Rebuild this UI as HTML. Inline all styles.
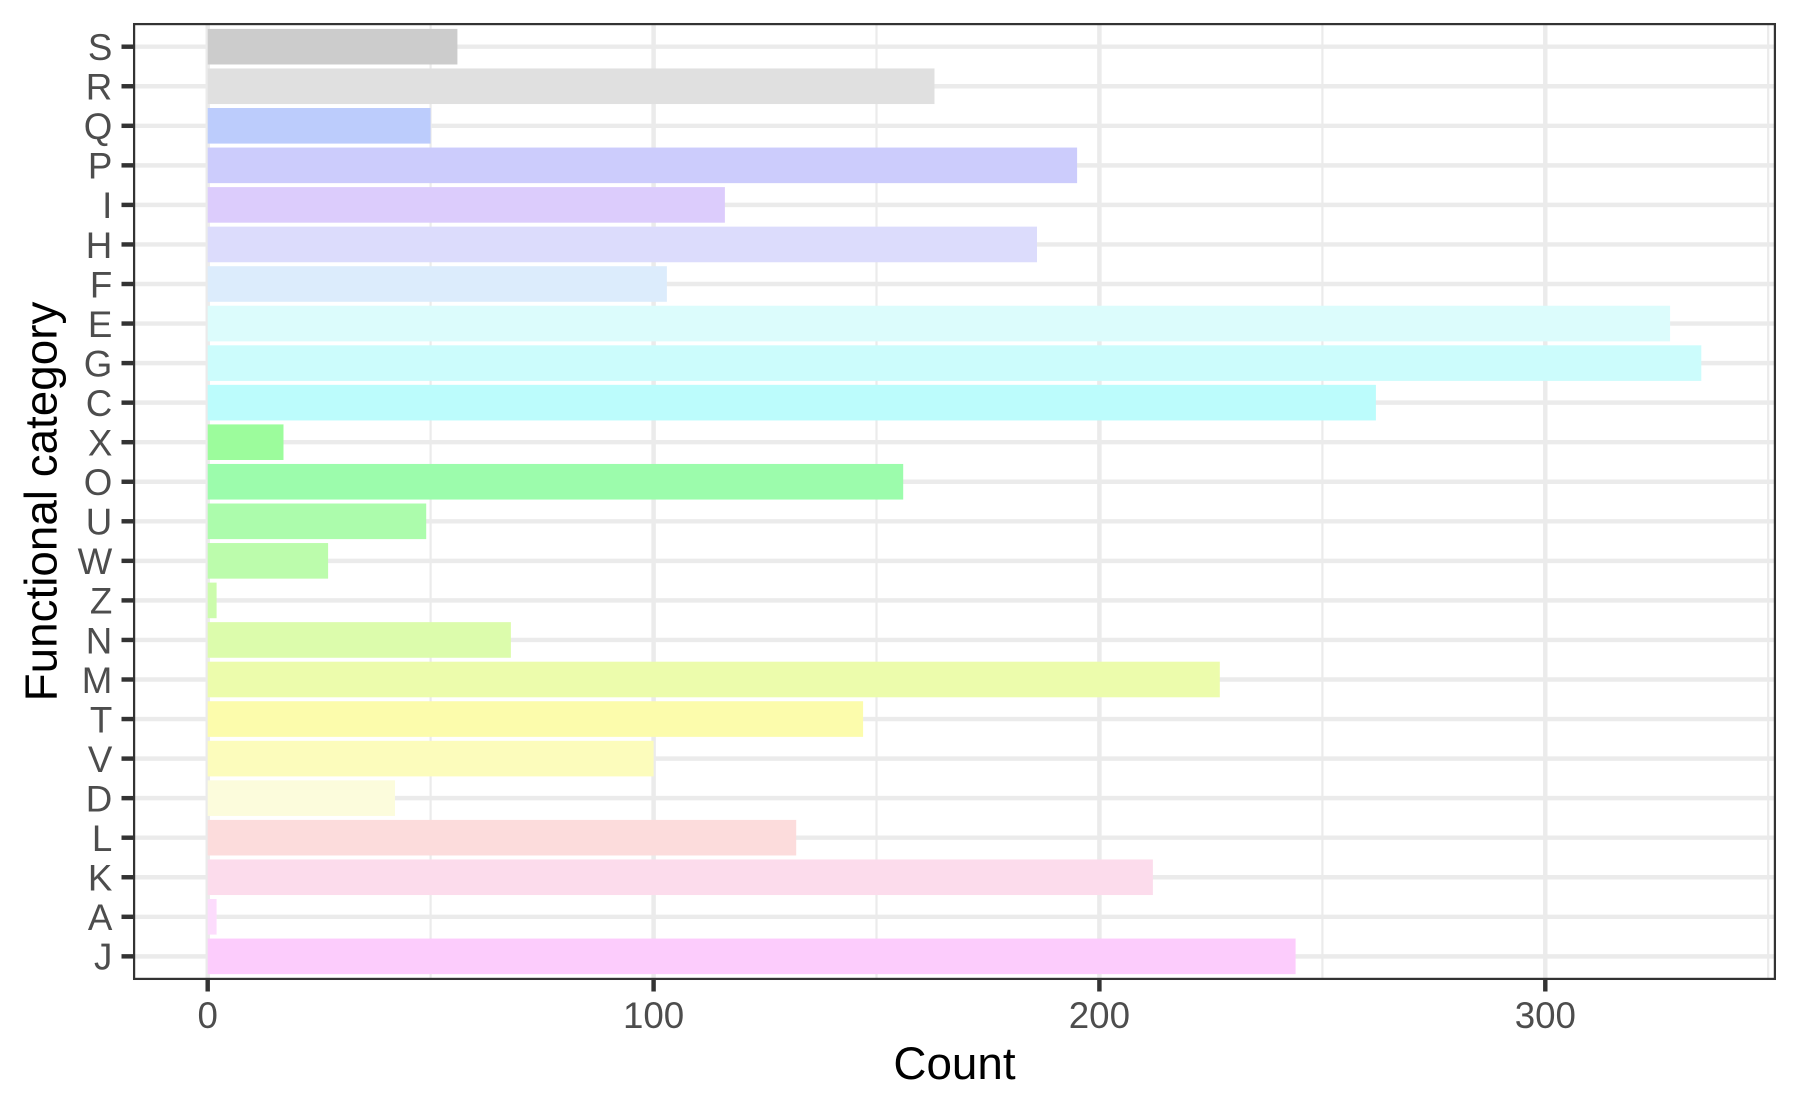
<!DOCTYPE html>
<html>
<head>
<meta charset="utf-8">
<style>
html,body{margin:0;padding:0;background:#fff;}
svg{display:block;}
text{font-family:"Liberation Sans",Arial,sans-serif;}
</style>
</head>
<body>
<svg width="1800" height="1112" viewBox="0 0 1800 1112" xmlns="http://www.w3.org/2000/svg">
<defs>
<clipPath id="pc"><rect x="133" y="23" width="1643" height="957"/></clipPath>
</defs>
<rect x="0" y="0" width="1800" height="1112" fill="#fff"/>
<g clip-path="url(#pc)">
<!-- minor vertical grid -->
<g stroke="#EBEBEB" stroke-width="2.22">
<line x1="430.6" y1="23" x2="430.6" y2="980"/>
<line x1="876.5" y1="23" x2="876.5" y2="980"/>
<line x1="1322.4" y1="23" x2="1322.4" y2="980"/>
<line x1="1768.2" y1="23" x2="1768.2" y2="980"/>
</g>
<!-- major vertical grid -->
<g stroke="#EBEBEB" stroke-width="4.44">
<line x1="207.7" y1="23" x2="207.7" y2="980"/>
<line x1="653.6" y1="23" x2="653.6" y2="980"/>
<line x1="1099.4" y1="23" x2="1099.4" y2="980"/>
<line x1="1545.3" y1="23" x2="1545.3" y2="980"/>
</g>
<!-- major horizontal grid -->
<g stroke="#EBEBEB" stroke-width="4.44">
<line x1="133" x2="1776" y1="46.7" y2="46.7"/>
<line x1="133" x2="1776" y1="86.25" y2="86.25"/>
<line x1="133" x2="1776" y1="125.8" y2="125.8"/>
<line x1="133" x2="1776" y1="165.35" y2="165.35"/>
<line x1="133" x2="1776" y1="204.9" y2="204.9"/>
<line x1="133" x2="1776" y1="244.45" y2="244.45"/>
<line x1="133" x2="1776" y1="284" y2="284"/>
<line x1="133" x2="1776" y1="323.55" y2="323.55"/>
<line x1="133" x2="1776" y1="363.1" y2="363.1"/>
<line x1="133" x2="1776" y1="402.65" y2="402.65"/>
<line x1="133" x2="1776" y1="442.2" y2="442.2"/>
<line x1="133" x2="1776" y1="481.75" y2="481.75"/>
<line x1="133" x2="1776" y1="521.3" y2="521.3"/>
<line x1="133" x2="1776" y1="560.85" y2="560.85"/>
<line x1="133" x2="1776" y1="600.4" y2="600.4"/>
<line x1="133" x2="1776" y1="639.95" y2="639.95"/>
<line x1="133" x2="1776" y1="679.5" y2="679.5"/>
<line x1="133" x2="1776" y1="719.05" y2="719.05"/>
<line x1="133" x2="1776" y1="758.6" y2="758.6"/>
<line x1="133" x2="1776" y1="798.15" y2="798.15"/>
<line x1="133" x2="1776" y1="837.7" y2="837.7"/>
<line x1="133" x2="1776" y1="877.25" y2="877.25"/>
<line x1="133" x2="1776" y1="916.8" y2="916.8"/>
<line x1="133" x2="1776" y1="956.35" y2="956.35"/>
</g>
<!-- bars -->
<g>
<rect x="207.7" y="28.9" width="249.7" height="35.6" fill="#CCCCCC"/>
<rect x="207.7" y="68.45" width="726.8" height="35.6" fill="#E0E0E0"/>
<rect x="207.7" y="108.0" width="222.9" height="35.6" fill="#BCCCFC"/>
<rect x="207.7" y="147.55" width="869.4" height="35.6" fill="#CCCCFC"/>
<rect x="207.7" y="187.1" width="517.2" height="35.6" fill="#DCCCFC"/>
<rect x="207.7" y="226.65" width="829.3" height="35.6" fill="#DCDCFC"/>
<rect x="207.7" y="266.2" width="459.2" height="35.6" fill="#DCECFC"/>
<rect x="207.7" y="305.75" width="1462.4" height="35.6" fill="#DCFCFC"/>
<rect x="207.7" y="345.3" width="1493.6" height="35.6" fill="#CCFCFC"/>
<rect x="207.7" y="384.85" width="1168.2" height="35.6" fill="#BCFCFC"/>
<rect x="207.7" y="424.4" width="75.8" height="35.6" fill="#9CFC9C"/>
<rect x="207.7" y="463.95" width="695.5" height="35.6" fill="#9CFCAC"/>
<rect x="207.7" y="503.5" width="218.5" height="35.6" fill="#ACFCAC"/>
<rect x="207.7" y="543.05" width="120.4" height="35.6" fill="#BCFCAC"/>
<rect x="207.7" y="582.6" width="8.9" height="35.6" fill="#CCFCAC"/>
<rect x="207.7" y="622.15" width="303.2" height="35.6" fill="#DCFCAC"/>
<rect x="207.7" y="661.7" width="1012.1" height="35.6" fill="#ECFCAC"/>
<rect x="207.7" y="701.25" width="655.4" height="35.6" fill="#FCFCAC"/>
<rect x="207.7" y="740.8" width="445.9" height="35.6" fill="#FCFCBC"/>
<rect x="207.7" y="780.35" width="187.3" height="35.6" fill="#FCFCDC"/>
<rect x="207.7" y="819.9" width="588.5" height="35.6" fill="#FCDCDC"/>
<rect x="207.7" y="859.45" width="945.2" height="35.6" fill="#FCDCEC"/>
<rect x="207.7" y="899.0" width="8.9" height="35.6" fill="#FCDCFC"/>
<rect x="207.7" y="938.55" width="1087.9" height="35.6" fill="#FCCCFC"/>
</g>
</g>
<!-- panel border (half clipped) -->
<rect x="134.1" y="24.1" width="1640.8" height="954.8" fill="none" stroke="#333333" stroke-width="2.22"/>
<!-- y ticks -->
<g stroke="#333333" stroke-width="4.44">
<line x1="121.5" x2="133" y1="46.7" y2="46.7"/>
<line x1="121.5" x2="133" y1="86.25" y2="86.25"/>
<line x1="121.5" x2="133" y1="125.8" y2="125.8"/>
<line x1="121.5" x2="133" y1="165.35" y2="165.35"/>
<line x1="121.5" x2="133" y1="204.9" y2="204.9"/>
<line x1="121.5" x2="133" y1="244.45" y2="244.45"/>
<line x1="121.5" x2="133" y1="284" y2="284"/>
<line x1="121.5" x2="133" y1="323.55" y2="323.55"/>
<line x1="121.5" x2="133" y1="363.1" y2="363.1"/>
<line x1="121.5" x2="133" y1="402.65" y2="402.65"/>
<line x1="121.5" x2="133" y1="442.2" y2="442.2"/>
<line x1="121.5" x2="133" y1="481.75" y2="481.75"/>
<line x1="121.5" x2="133" y1="521.3" y2="521.3"/>
<line x1="121.5" x2="133" y1="560.85" y2="560.85"/>
<line x1="121.5" x2="133" y1="600.4" y2="600.4"/>
<line x1="121.5" x2="133" y1="639.95" y2="639.95"/>
<line x1="121.5" x2="133" y1="679.5" y2="679.5"/>
<line x1="121.5" x2="133" y1="719.05" y2="719.05"/>
<line x1="121.5" x2="133" y1="758.6" y2="758.6"/>
<line x1="121.5" x2="133" y1="798.15" y2="798.15"/>
<line x1="121.5" x2="133" y1="837.7" y2="837.7"/>
<line x1="121.5" x2="133" y1="877.25" y2="877.25"/>
<line x1="121.5" x2="133" y1="916.8" y2="916.8"/>
<line x1="121.5" x2="133" y1="956.35" y2="956.35"/>
</g>
<!-- x ticks -->
<g stroke="#333333" stroke-width="4.44">
<line x1="207.7" x2="207.7" y1="980" y2="991.5"/>
<line x1="653.6" x2="653.6" y1="980" y2="991.5"/>
<line x1="1099.4" x2="1099.4" y1="980" y2="991.5"/>
<line x1="1545.3" x2="1545.3" y1="980" y2="991.5"/>
</g>
<!-- y labels -->
<g font-size="36.7" fill="#4D4D4D" text-anchor="end">
<text x="112.3" y="60">S</text>
<text x="112.3" y="99.55">R</text>
<text x="112.3" y="139.1">Q</text>
<text x="112.3" y="178.65">P</text>
<text x="112.3" y="218.2">I</text>
<text x="112.3" y="257.75">H</text>
<text x="112.3" y="297.3">F</text>
<text x="112.3" y="336.85">E</text>
<text x="112.3" y="376.4">G</text>
<text x="112.3" y="415.95">C</text>
<text x="112.3" y="455.5">X</text>
<text x="112.3" y="495.05">O</text>
<text x="112.3" y="534.6">U</text>
<text x="112.3" y="574.15">W</text>
<text x="112.3" y="613.7">Z</text>
<text x="112.3" y="653.25">N</text>
<text x="112.3" y="692.8">M</text>
<text x="112.3" y="732.35">T</text>
<text x="112.3" y="771.9">V</text>
<text x="112.3" y="811.45">D</text>
<text x="112.3" y="851">L</text>
<text x="112.3" y="890.55">K</text>
<text x="112.3" y="930.1">A</text>
<text x="112.3" y="969.65">J</text>
</g>
<!-- x labels -->
<g font-size="36.7" fill="#4D4D4D" text-anchor="middle">
<text x="207.7" y="1028">0</text>
<text x="653.6" y="1028">100</text>
<text x="1099.4" y="1028">200</text>
<text x="1545.3" y="1028">300</text>
</g>
<!-- axis titles -->
<text x="954.5" y="1079" font-size="45.8" fill="#000" text-anchor="middle">Count</text>
<text transform="translate(56.5,501.5) rotate(-90)" font-size="45.8" fill="#000" text-anchor="middle">Functional category</text>
</svg>
</body>
</html>
